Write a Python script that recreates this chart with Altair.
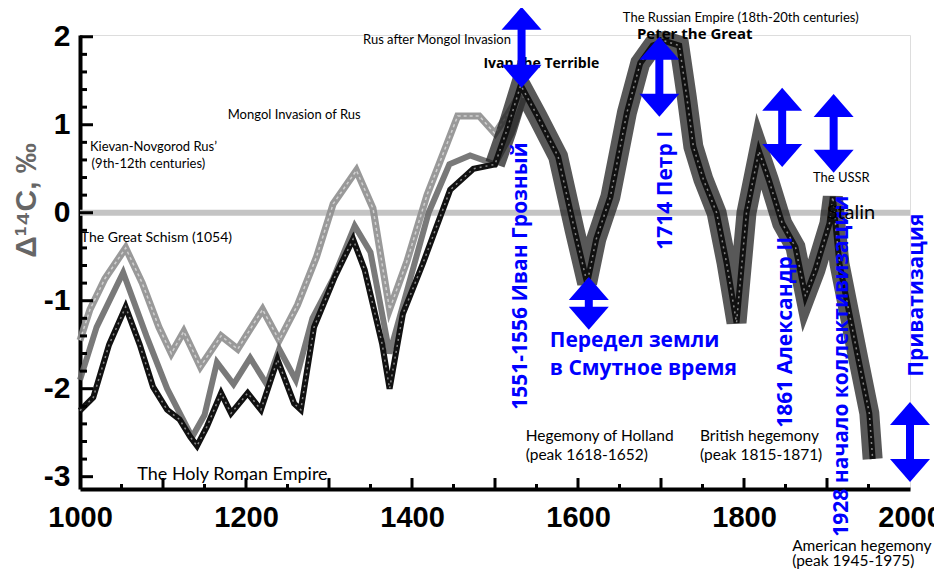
import altair as alt
import pandas as pd

# ---------------- data ----------------
# light grey series
years_a = [1000, 1012, 1030, 1055, 1075, 1095, 1110, 1125, 1145, 1170, 1190, 1220, 1240, 1262,
           1285, 1305, 1333, 1353, 1373, 1394, 1418, 1442, 1455, 1481, 1500, 1514, 1530]
vals_a = [-1.45, -1.1, -0.75, -0.4, -0.8, -1.3, -1.6, -1.35, -1.75, -1.4, -1.55, -1.1, -1.45, -1.05,
          -0.5, 0.1, 0.48, 0.05, -1.1, -0.55, 0.2, 0.78, 1.1, 1.1, 0.9, 1.1, 1.35]
# mid grey series
years_b = [1000, 1020, 1052, 1080, 1105, 1135, 1150, 1165, 1185, 1205, 1225, 1240, 1260, 1280,
           1305, 1331, 1350, 1373, 1395, 1420, 1445, 1470, 1500, 1520, 1535]
vals_b = [-1.9, -1.3, -0.68, -1.4, -2.0, -2.55, -2.3, -1.7, -1.95, -1.65, -1.95, -1.55, -1.9, -1.2,
          -0.75, -0.15, -0.45, -1.6, -0.85, 0.0, 0.55, 0.65, 0.55, 0.9, 1.3]
# black series
years_c = [1000, 1016, 1035, 1055, 1072, 1088, 1105, 1120, 1133, 1141, 1153, 1170, 1182, 1202,
           1218, 1238, 1258, 1266, 1282, 1307, 1329, 1343, 1364, 1373, 1389, 1413, 1446, 1474,
           1500, 1514, 1531, 1551, 1576, 1596, 1611, 1622, 1639, 1659, 1675, 1690, 1705, 1722,
           1731, 1739, 1751, 1767, 1779, 1791, 1803, 1818, 1830, 1846, 1862, 1874, 1886, 1903,
           1907, 1915, 1927, 1939, 1951, 1955]
vals_c = [-2.25, -2.1, -1.5, -1.07, -1.5, -1.98, -2.24, -2.35, -2.55, -2.65, -2.43, -2.05, -2.28, -2.05,
          -2.24, -1.67, -2.17, -2.24, -1.3, -0.73, -0.3, -0.65, -1.49, -2.0, -1.15, -0.58, 0.26, 0.5,
          0.55, 0.93, 1.45, 1.1, 0.64, -0.2, -0.8, -0.3, 0.18, 1.14, 1.7, 1.9, 1.95, 1.9,
          1.32, 0.75, 0.38, 0.0, -0.57, -1.25, 0.0, 0.7, 0.37, -0.12, -0.39, -0.95, -0.65, -0.12,
          0.18, -0.58, -1.15, -1.72, -2.28, -2.8]

# axis ticks and labels
x_labels = [1000, 1200, 1400, 1600, 1800, 2000]
x_major_ticks = [1100, 1200, 1300, 1400, 1500, 1600, 1700, 1800, 1900]
x_minor_ticks = [1050, 1150, 1250, 1350, 1450, 1550, 1650, 1750, 1850, 1950]
y_labels = [-3, -2, -1, 0, 1, 2]
y_major_ticks = [-3, -2, -1, 0, 1, 2]
y_minor_ticks = [-2.8, -2.6, -2.4, -2.2, -1.8, -1.6, -1.4, -1.2, -0.8, -0.6, -0.4, -0.2,
                 0.2, 0.4, 0.6, 0.8, 1.2, 1.4, 1.6, 1.8]

# black annotations (grouped by text size)
note_text = ["Rus after Mongol Invasion", "Mongol Invasion of Rus", "Kievan-Novgorod Rus’",
             "(9th-12th centuries)", "The Russian Empire (18th-20th centuries)", "The USSR"]
note_year = [1341, 1178, 1012, 1014, 1654, 1883]
note_val = [1.92, 1.068, 0.705, 0.511, 2.17, 0.352]

schism_text = ["The Great Schism (1054)"]
schism_year = [1001]
schism_val = [-0.33]

mid_text = ["Hegemony of Holland", "(peak 1618-1652)", "British hegemony", "(peak 1815-1871)",
            "American hegemony", "(peak 1945-1975)"]
mid_year = [1537, 1537, 1747, 1747, 1858, 1858]
mid_val = [-2.59, -2.807, -2.59, -2.807, -3.841, -4.011]

big_text = ["The Holy Roman Empire", "Stalin"]
big_year = [1069, 1900]
big_val = [-3.034, -0.068]
big_size = [18, 20]

bold_text = ["Ivan the Terrible", "Peter the Great"]
bold_year = [1486, 1671]
bold_val = [1.648, 1.978]
bold_size = [14, 15]

# blue annotations
blue_h_text = ["Передел земли", "в Смутное время"]
blue_h_year = [1566, 1566]
blue_h_val = [-1.523, -1.841]

blue_v_text = ["1551-1556 Иван Грозный", "1714 Петр I", "1861 Александр II",
               "1928 начало коллективизации", "Приватизация"]
blue_v_year = [1531, 1706, 1851, 1918, 2008]
blue_v_val = [-2.239, -0.42, -2.443, -3.682, -1.864]

# blue double arrows
arrow_year = [1532, 1698, 1846, 1908, 1613, 2000]
arrow_top = [2.34, 2.0, 1.42, 1.35, -0.73, -2.15]
arrow_bottom = [1.42, 1.09, 0.52, 0.455, -1.33, -3.06]

# ---------------- tables ----------------
series_df = pd.concat([
    pd.DataFrame({"year": years_a, "value": vals_a, "series": "A"}),
    pd.DataFrame({"year": years_b, "value": vals_b, "series": "B"}),
    pd.DataFrame({"year": years_c, "value": vals_c, "series": "C"}),
])
arrows_df = pd.DataFrame({"year": arrow_year, "top": arrow_top, "bottom": arrow_bottom})
arrows_df["top_s"] = arrows_df["top"] - 0.15
arrows_df["bottom_s"] = arrows_df["bottom"] + 0.15

W, H = 830, 454
BLUE = "#0000ff"
xs = alt.Scale(domain=[1000, 2000], nice=False, zero=False)
ys = alt.Scale(domain=[-3.14, 2.02], nice=False, zero=False)

x_axis = alt.Axis(values=x_labels, format="d", title=None, grid=False, ticks=False,
                  labelFont="Liberation Sans", labelFontWeight="bold", labelFontSize=29,
                  labelColor="#000", labelPadding=14, domainColor="#000", domainWidth=4,
                  labelFlush=False)
y_axis = alt.Axis(values=y_labels, title="Δ¹⁴C, ‰", grid=False, ticks=False,
                  labelExpr="datum.value < 0 ? '-' + abs(datum.value) : '' + datum.value",
                  labelFont="Liberation Sans", labelFontWeight="bold", labelFontSize=30,
                  labelColor="#000", labelPadding=10, domainColor="#000", domainWidth=4,
                  labelFlush=False,
                  titleFont="Liberation Sans", titleFontSize=30, titleFontWeight="bold",
                  titleColor="#666", titleX=-54, titleY=165, titleAngle=270,
                  titleAlign="center", titleBaseline="middle")


def X(f):
    return alt.X(f, type="quantitative", scale=xs, axis=x_axis)


def Y(f):
    return alt.Y(f, type="quantitative", scale=ys, axis=y_axis)


def text_layer(texts, years, vals, sizes=None, **kw):
    df = pd.DataFrame({"t": texts, "year": years, "v": vals})
    enc = dict(x=X("year"), y=Y("v"), text="t:N")
    if sizes is not None:
        df["s"] = sizes
        enc["size"] = alt.Size("s:Q", scale=None, legend=None)
    return alt.Chart(df).mark_text(**kw).encode(**enc)


zero = alt.Chart(pd.DataFrame({"v": [0]})).mark_rule(color="#c4c4c4", strokeWidth=6).encode(
    y=Y("v"))

base = alt.Chart(series_df)
line_a = base.transform_filter("datum.series == 'A'").mark_line(
    color="#8e8e8e", strokeWidth=7, opacity=0.9).encode(x=X("year"), y=Y("value"), order="year:Q")
line_a_in = base.transform_filter("datum.series == 'A'").mark_line(
    color="#d0d0d0", strokeWidth=1.5, strokeDash=[3, 3]).encode(x=X("year"), y=Y("value"), order="year:Q")
line_b = base.transform_filter("datum.series == 'B'").mark_line(
    color="#6a6a6a", strokeWidth=6, opacity=0.9).encode(x=X("year"), y=Y("value"), order="year:Q")
band_c = base.transform_filter("datum.series == 'C' && datum.year >= 1500").mark_line(
    color="#202020", strokeWidth=20, opacity=0.75).encode(x=X("year"), y=Y("value"), order="year:Q")
line_c = base.transform_filter("datum.series == 'C'").mark_line(
    color="#111", strokeWidth=6).encode(x=X("year"), y=Y("value"), order="year:Q")
line_c_in = base.transform_filter("datum.series == 'C'").mark_line(
    color="#888", strokeWidth=1.5, strokeDash=[2, 4]).encode(x=X("year"), y=Y("value"), order="year:Q")

# custom inward ticks
ytm = alt.Chart(pd.DataFrame({"v": y_major_ticks})).mark_rule(color="#000", strokeWidth=3).encode(
    y=Y("v"), x=alt.value(0), x2=alt.value(13))
ytn = alt.Chart(pd.DataFrame({"v": y_minor_ticks})).mark_rule(color="#000", strokeWidth=3).encode(
    y=Y("v"), x=alt.value(0), x2=alt.value(7))
xtm = alt.Chart(pd.DataFrame({"t": x_major_ticks})).mark_rule(color="#000", strokeWidth=3).encode(
    x=X("t"), y=alt.value(H), y2=alt.value(H - 11))
xtn = alt.Chart(pd.DataFrame({"t": x_minor_ticks})).mark_rule(color="#000", strokeWidth=3).encode(
    x=X("t"), y=alt.value(H), y2=alt.value(H - 5))

notes = text_layer(note_text, note_year, note_val, align="left", baseline="alphabetic",
                   font="Lato", fontSize=13, color="#000")
schism = text_layer(schism_text, schism_year, schism_val, align="left", baseline="alphabetic",
                    font="Lato", fontSize=14, color="#000")
mids = text_layer(mid_text, mid_year, mid_val, align="left", baseline="alphabetic",
                  font="Lato", fontSize=15.5, color="#000")
bigs = text_layer(big_text, big_year, big_val, sizes=big_size, align="left",
                  baseline="alphabetic", font="Lato", color="#000")
bolds = text_layer(bold_text, bold_year, bold_val, sizes=bold_size, align="left",
                   baseline="alphabetic", font="Open Sans", fontWeight="bold", color="#000")
blue_h = text_layer(blue_h_text, blue_h_year, blue_h_val, align="left", baseline="alphabetic",
                    font="Open Sans", fontSize=21, fontWeight="bold", color=BLUE)
blue_v = text_layer(blue_v_text, blue_v_year, blue_v_val, align="left", baseline="middle",
                    angle=270, font="Open Sans", fontSize=21, fontWeight="bold", color=BLUE)

shaft = alt.Chart(arrows_df).mark_rule(color=BLUE, strokeWidth=8).encode(
    x=X("year"), y=Y("top_s"), y2="bottom_s:Q")
head_up = alt.Chart(arrows_df).mark_point(
    shape="M0,0 L1,1.15 L-1,1.15 Z", size=1600, filled=True, color=BLUE, opacity=1,
    strokeWidth=0).encode(x=X("year"), y=Y("top"))
head_dn = alt.Chart(arrows_df).mark_point(
    shape="M0,0 L1,-1.15 L-1,-1.15 Z", size=1600, filled=True, color=BLUE, opacity=1,
    strokeWidth=0).encode(x=X("year"), y=Y("bottom"))

chart = alt.layer(
    zero, line_a, line_a_in, line_b, band_c, line_c, line_c_in,
    ytm, ytn, xtm, xtn,
    notes, schism, mids, bolds, blue_h, blue_v, bigs, shaft, head_up, head_dn
).properties(
    width=W, height=H,
    padding={"left": 72, "top": 27, "right": 24, "bottom": 80},
    autosize=alt.AutoSizeParams(type="none"),
).configure_view(stroke=None).configure(background="white")

chart.save("out.html", embed_options={"renderer": "svg", "actions": False})
